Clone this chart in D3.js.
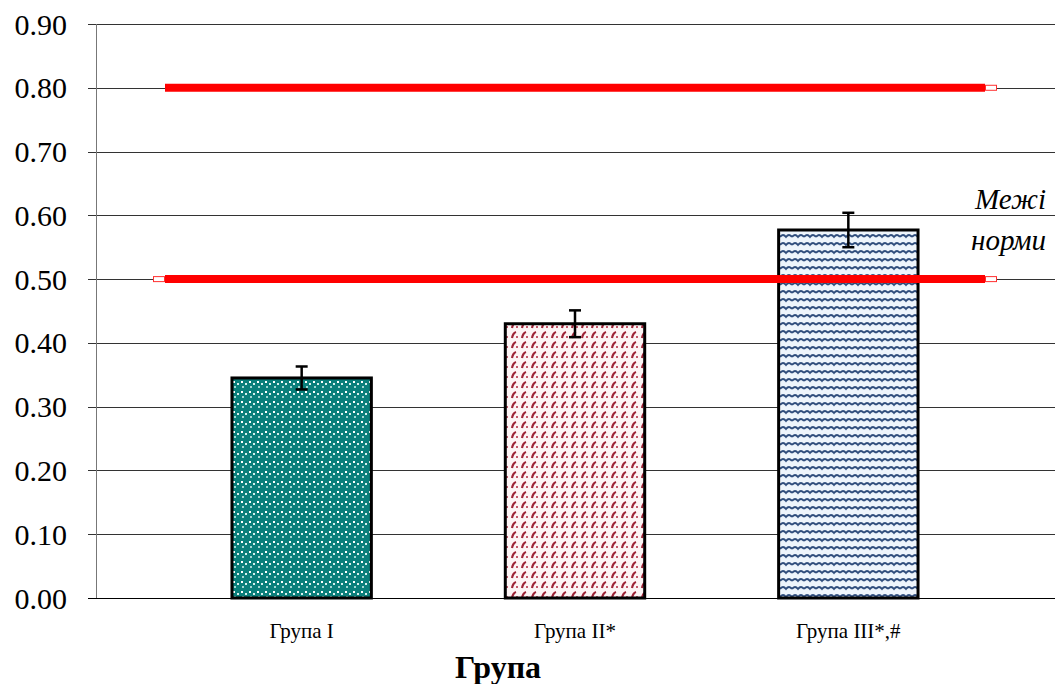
<!DOCTYPE html>
<html>
<head>
<meta charset="utf-8">
<script src="https://cdn.jsdelivr.net/npm/d3@7"></script>
<style>
  body { margin: 0; background: #fff; }
  svg { display: block; }
  text { font-family: 'Liberation Serif', 'Times New Roman', 'DejaVu Serif', serif; }
</style>
</head>
<body>
<svg width="1055" height="684"></svg>
<script>
// chart data
var groups = ['Група I', 'Група II*', 'Група III*,#'];
var values = [0.345, 0.43, 0.577];
var errors = [0.018, 0.021, 0.027];
var normLimits = [0.8, 0.5];
var yTicks = [0, 0.1, 0.2, 0.3, 0.4, 0.5, 0.6, 0.7, 0.8, 0.9];

var svg = d3.select('svg');

var scaleY = d3.scaleLinear().domain([0, 0.9]).range([598, 24]);
var scaleX = d3.scaleBand().domain(groups).range([165, 985])
    .paddingInner(0.49).paddingOuter(0.245);

// fill patterns
var defs = svg.append('defs');

var p1 = defs.append('pattern').attr('id', 'pat1')
    .attr('patternUnits', 'userSpaceOnUse').attr('width', 8).attr('height', 10);
p1.append('rect').attr('width', 8).attr('height', 10).attr('fill', '#0a7f7b');
p1.append('rect').attr('x', 1).attr('y', 1).attr('width', 2).attr('height', 2).attr('fill', '#ffffff');
p1.append('rect').attr('x', 5).attr('y', 3).attr('width', 2).attr('height', 2).attr('fill', '#d8f0ee');
p1.append('rect').attr('x', 2).attr('y', 6).attr('width', 2).attr('height', 2).attr('fill', '#9fd6d2');

var p2 = defs.append('pattern').attr('id', 'pat2')
    .attr('patternUnits', 'userSpaceOnUse').attr('width', 10).attr('height', 10);
p2.append('rect').attr('width', 10).attr('height', 10).attr('fill', '#fdf4f5');
p2.append('path').attr('d', 'M2,8 Q3,3 6,2')
    .attr('fill', 'none').attr('stroke', '#9e2236').attr('stroke-width', 2.2);
p2.append('rect').attr('x', 6).attr('y', 6).attr('width', 2).attr('height', 2).attr('fill', '#c45a6c');

var p3 = defs.append('pattern').attr('id', 'pat3')
    .attr('patternUnits', 'userSpaceOnUse').attr('width', 12).attr('height', 8);
p3.append('rect').attr('width', 12).attr('height', 8).attr('fill', '#eef5fc');
p3.append('path').attr('d', 'M0,5 Q3,1 6,5 Q9,1 12,5')
    .attr('fill', 'none').attr('stroke', '#2f4d7c').attr('stroke-width', 1.8);

var fills = ['url(#pat1)', 'url(#pat2)', 'url(#pat3)'];

// gridlines
svg.append('g').selectAll('line')
    .data(yTicks)
    .enter()
    .append('line')
    .attr('x1', 88)
    .attr('x2', 1055)
    .attr('y1', function (d) { return Math.round(scaleY(d)) + 0.5; })
    .attr('y2', function (d) { return Math.round(scaleY(d)) + 0.5; })
    .attr('stroke', function (d) { return d === 0 ? '#000' : '#333'; })
    .attr('stroke-width', 1);

// y axis line
svg.append('line')
    .attr('x1', 96.5).attr('x2', 96.5)
    .attr('y1', scaleY(0.9)).attr('y2', scaleY(0))
    .attr('stroke', '#777');

// y tick labels
svg.append('g').selectAll('text')
    .data(yTicks)
    .enter()
    .append('text')
    .attr('x', 67)
    .attr('y', function (d) { return scaleY(d) + 10.5; })
    .attr('text-anchor', 'end')
    .attr('font-size', 30)
    .text(function (d) { return d.toFixed(2); });

// bars
svg.append('g').selectAll('rect')
    .data(values)
    .enter()
    .append('rect')
    .attr('x', function (d, i) { return scaleX(groups[i]); })
    .attr('y', function (d) { return scaleY(d); })
    .attr('width', scaleX.bandwidth())
    .attr('height', function (d) { return scaleY(0) - scaleY(d); })
    .attr('fill', function (d, i) { return fills[i]; })
    .attr('stroke', '#000')
    .attr('stroke-width', 3);

// error bars
var eb = svg.append('g').selectAll('g')
    .data(values)
    .enter()
    .append('g');
eb.append('line')
    .attr('x1', function (d, i) { return scaleX(groups[i]) + scaleX.bandwidth() / 2; })
    .attr('x2', function (d, i) { return scaleX(groups[i]) + scaleX.bandwidth() / 2; })
    .attr('y1', function (d, i) { return scaleY(d + errors[i]); })
    .attr('y2', function (d, i) { return scaleY(d - errors[i]); })
    .attr('stroke', '#000').attr('stroke-width', 2.5);
[1, -1].forEach(function (s) {
    eb.append('line')
        .attr('x1', function (d, i) { return scaleX(groups[i]) + scaleX.bandwidth() / 2 - 6; })
        .attr('x2', function (d, i) { return scaleX(groups[i]) + scaleX.bandwidth() / 2 + 6; })
        .attr('y1', function (d, i) { return scaleY(d + s * errors[i]); })
        .attr('y2', function (d, i) { return scaleY(d + s * errors[i]); })
        .attr('stroke', '#000').attr('stroke-width', 2.5);
});

// norm limit lines
var x0 = scaleX.range()[0], x1 = scaleX.range()[1];
svg.append('g').selectAll('line')
    .data(normLimits)
    .enter()
    .append('line')
    .attr('x1', x0).attr('x2', x1)
    .attr('y1', function (d) { return scaleY(d); })
    .attr('y2', function (d) { return scaleY(d); })
    .attr('stroke', '#ff0000')
    .attr('stroke-width', 8);

// small end caps
var caps = [[0.8, x1], [0.5, x0 - 12], [0.5, x1]];
svg.append('g').selectAll('rect')
    .data(caps)
    .enter()
    .append('rect')
    .attr('x', function (d) { return d[1] + 0.5; })
    .attr('y', function (d) { return scaleY(d[0]) - 2.5; })
    .attr('width', 11)
    .attr('height', 5)
    .attr('fill', '#fff')
    .attr('stroke', '#ff3030')
    .attr('stroke-width', 1);

// label for norm lines
svg.append('text')
    .attr('x', 1046).attr('y', 209)
    .attr('text-anchor', 'end')
    .attr('font-style', 'italic')
    .attr('font-size', 29)
    .text('Межі');
svg.append('text')
    .attr('x', 1046).attr('y', 250)
    .attr('text-anchor', 'end')
    .attr('font-style', 'italic')
    .attr('font-size', 29)
    .text('норми');

// x labels
svg.append('g').selectAll('text')
    .data(groups)
    .enter()
    .append('text')
    .attr('x', function (d) { return scaleX(d) + scaleX.bandwidth() / 2; })
    .attr('y', 638)
    .attr('text-anchor', 'middle')
    .attr('font-size', 21)
    .text(function (d) { return d; });

// x axis title
svg.append('text')
    .attr('x', 498).attr('y', 678)
    .attr('text-anchor', 'middle')
    .attr('font-weight', 'bold')
    .attr('font-size', 32)
    .text('Група');
</script>
</body>
</html>
